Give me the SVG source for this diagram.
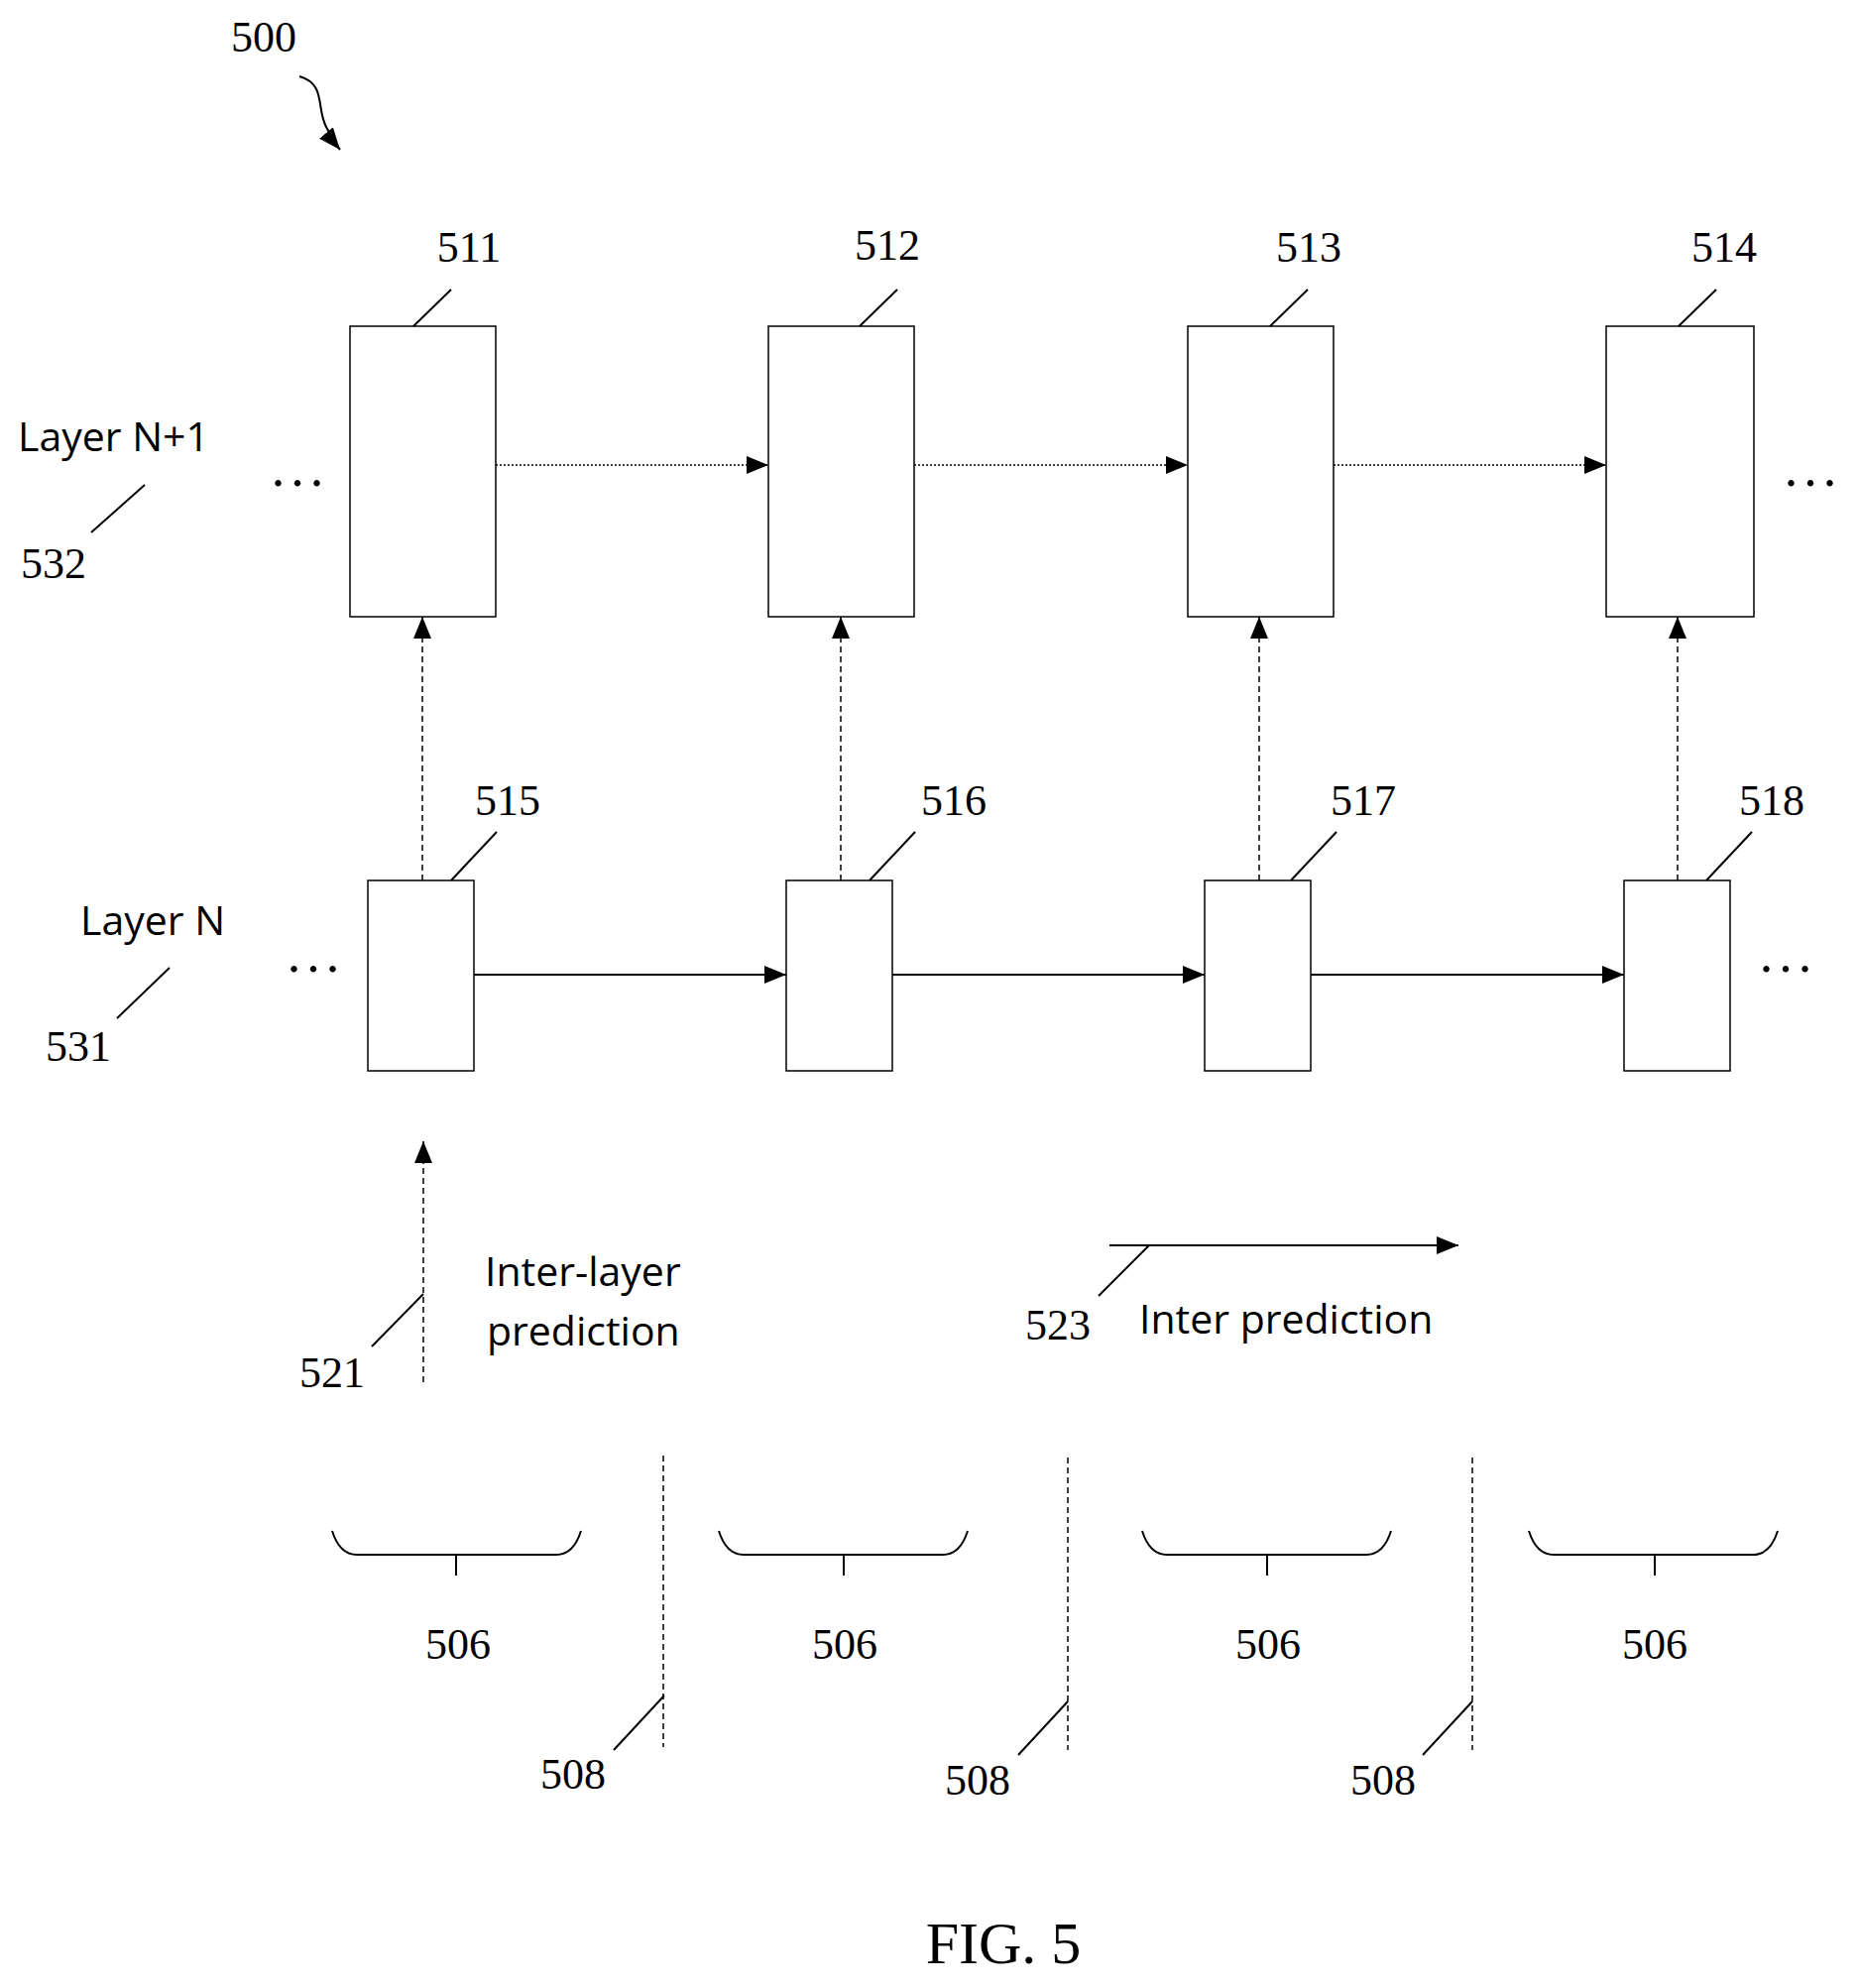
<svg xmlns="http://www.w3.org/2000/svg" width="1875" height="2005" viewBox="0 0 1875 2005">
<style>
.n{font-family:"Liberation Serif",serif;font-size:44px;fill:#000;text-anchor:middle}
.s{font-family:"Open Sans","Liberation Sans",sans-serif;font-size:41px;fill:#000}
.d{font-family:"Liberation Serif",serif;font-size:54px;fill:#000;text-anchor:middle;letter-spacing:6px}
.b{fill:#fff;stroke:#000;stroke-width:1.5}
.l{stroke:#000;stroke-width:2;fill:none}
.dot{stroke:#000;stroke-width:1.5;stroke-dasharray:2 2;fill:none}
.dash{stroke:#000;stroke-width:1.5;stroke-dasharray:6 4;fill:none}
</style>
<defs>
<marker id="A" markerWidth="22" markerHeight="18" refX="22" refY="9" orient="auto" markerUnits="userSpaceOnUse"><path d="M0,0L22,9L0,18z" fill="#000"/></marker></defs>
<text class="n" x="266" y="52">500</text>
<path class="l" d="M302,77 C330,85 318,110 330,130 C335,140 338,145 343,151" marker-end="url(#A)"/>
<g id="connectors">
<line class="dot" x1="500" y1="469" x2="775" y2="469" marker-end="url(#A)"/>
<line class="dot" x1="922" y1="469" x2="1198" y2="469" marker-end="url(#A)"/>
<line class="dot" x1="1345" y1="469" x2="1620" y2="469" marker-end="url(#A)"/>
<line class="l" x1="478" y1="983" x2="793" y2="983" marker-end="url(#A)"/>
<line class="l" x1="900" y1="983" x2="1215" y2="983" marker-end="url(#A)"/>
<line class="l" x1="1322" y1="983" x2="1638" y2="983" marker-end="url(#A)"/>
<line class="dash" x1="426" y1="888" x2="426" y2="622" marker-end="url(#A)"/>
<line class="dash" x1="848" y1="888" x2="848" y2="622" marker-end="url(#A)"/>
<line class="dash" x1="1270" y1="888" x2="1270" y2="622" marker-end="url(#A)"/>
<line class="dash" x1="1692" y1="888" x2="1692" y2="622" marker-end="url(#A)"/>
</g>
<g id="n511"><rect class="b" x="353" y="329" width="147" height="293"/><text class="n" x="473" y="264">511</text><line class="l" x1="417" y1="329" x2="455" y2="292"/></g>
<g id="n512"><rect class="b" x="775" y="329" width="147" height="293"/><text class="n" x="895" y="262">512</text><line class="l" x1="867" y1="329" x2="905" y2="292"/></g>
<g id="n513"><rect class="b" x="1198" y="329" width="147" height="293"/><text class="n" x="1320" y="264">513</text><line class="l" x1="1281" y1="329" x2="1319" y2="292"/></g>
<g id="n514"><rect class="b" x="1620" y="329" width="149" height="293"/><text class="n" x="1739" y="264">514</text><line class="l" x1="1693" y1="329" x2="1731" y2="292"/></g>
<g id="n515"><rect class="b" x="371" y="888" width="107" height="192"/><text class="n" x="512" y="822">515</text><line class="l" x1="455" y1="888" x2="501" y2="839"/></g>
<g id="n516"><rect class="b" x="793" y="888" width="107" height="192"/><text class="n" x="962" y="822">516</text><line class="l" x1="877" y1="888" x2="923" y2="839"/></g>
<g id="n517"><rect class="b" x="1215" y="888" width="107" height="192"/><text class="n" x="1375" y="822">517</text><line class="l" x1="1302" y1="888" x2="1348" y2="839"/></g>
<g id="n518"><rect class="b" x="1638" y="888" width="107" height="192"/><text class="n" x="1787" y="822">518</text><line class="l" x1="1721" y1="888" x2="1767" y2="839"/></g>
<g id="layers">
<text class="s" x="18" y="455">Layer N+1</text><line class="l" x1="92" y1="537" x2="146" y2="489"/><text class="n" x="54" y="583">532</text>
<text class="s" x="81" y="943">Layer N</text><line class="l" x1="118" y1="1027" x2="171" y2="976"/><text class="n" x="79" y="1070">531</text>
<text class="d" x="303" y="490">...</text><text class="d" x="1829" y="490">...</text>
<text class="d" x="319" y="980">...</text><text class="d" x="1804" y="980">...</text>
</g>
<g id="legend">
<line class="dash" x1="427" y1="1394" x2="427" y2="1151" marker-end="url(#A)"/>
<line class="l" x1="375" y1="1358" x2="427" y2="1305"/>
<text class="n" x="335" y="1399">521</text>
<text class="s" x="489" y="1297">Inter-layer</text>
<text class="s" x="491" y="1357">prediction</text>
<line class="l" x1="1119" y1="1256" x2="1471" y2="1256" marker-end="url(#A)"/>
<line class="l" x1="1108" y1="1307" x2="1159" y2="1256"/>
<text class="n" x="1067" y="1351">523</text>
<text class="s" x="1149" y="1345">Inter prediction</text>
</g>
<g id="segments">
<path class="l" d="M335,1544 C340,1560 348,1568 360,1568 L561,1568 C573,1568 581,1560 586,1544 M460,1568 V1589"/>
<path class="l" d="M725,1544 C730,1560 738,1568 750,1568 L951,1568 C963,1568 971,1560 976,1544 M851,1568 V1589"/>
<path class="l" d="M1152,1544 C1157,1560 1165,1568 1177,1568 L1378,1568 C1390,1568 1398,1560 1403,1544 M1278,1568 V1589"/>
<path class="l" d="M1542,1544 C1547,1560 1555,1568 1567,1568 L1768,1568 C1780,1568 1788,1560 1793,1544 M1669,1568 V1589"/>
<text class="n" x="462" y="1673">506</text><text class="n" x="852" y="1673">506</text><text class="n" x="1279" y="1673">506</text><text class="n" x="1669" y="1673">506</text>
<line class="dash" x1="669" y1="1468" x2="669" y2="1762"/><line class="dash" x1="1077" y1="1470" x2="1077" y2="1765"/><line class="dash" x1="1485" y1="1470" x2="1485" y2="1765"/>
<line class="l" x1="619" y1="1765" x2="670" y2="1710"/><line class="l" x1="1027" y1="1770" x2="1077" y2="1716"/><line class="l" x1="1435" y1="1770" x2="1485" y2="1716"/>
<text class="n" x="578" y="1804">508</text><text class="n" x="986" y="1810">508</text><text class="n" x="1395" y="1810">508</text>
</g>
<text class="n" x="1012" y="1980" style="font-size:60px">FIG. 5</text>
</svg>
